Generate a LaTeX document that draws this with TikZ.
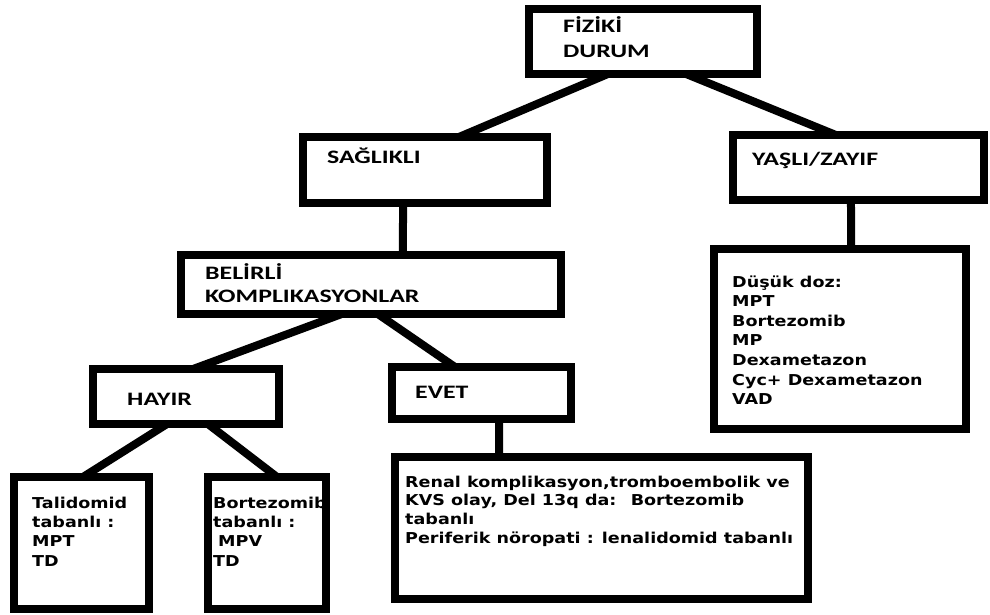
\documentclass[tikz,border=0pt]{standalone}
\usepackage{fontspec}
\newfontfamily\headfont[FakeStretch=1.36]{Carlito}
\newfontfamily\bodyfont[FakeStretch=1.17]{DejaVu Sans}
\usetikzlibrary{calc}
\begin{document}
\begin{tikzpicture}[x=1pt,y=-1pt,
  box/.style={draw=black, line width=8pt, inner sep=0pt, outer sep=0pt, fill=white},
  conn/.style={draw=black, line width=8pt},
  head/.style={anchor=base west, inner sep=0pt, font=\headfont\bfseries\fontsize{19}{19}\selectfont},
  body/.style={anchor=base west, inner sep=0pt, font=\bodyfont\bfseries\fontsize{15}{15}\selectfont}]
\useasboundingbox[fill=white] (0,0) rectangle (990,615);

% boxes
\node[box, minimum width=228pt, minimum height=65pt] (fiz) at (643,41.5) {};
\node[box, minimum width=244pt, minimum height=66pt] (sag) at (425,170) {};
\node[box, minimum width=251pt, minimum height=65pt] (yas) at (858.5,167.5) {};
\node[box, minimum width=380pt, minimum height=59pt] (bel) at (371,284.5) {};
\node[box, minimum width=252pt, minimum height=180pt] (dus) at (840,339) {};
\node[box, minimum width=186pt, minimum height=55pt] (hay) at (186,396.5) {};
\node[box, minimum width=179pt, minimum height=52pt] (evt) at (481.5,393) {};
\node[box, minimum width=135pt, minimum height=132pt] (tal) at (81.5,543) {};
\node[box, minimum width=118pt, minimum height=132pt] (bor) at (267,543) {};
\node[box, minimum width=413pt, minimum height=142pt] (ren) at (601.5,528) {};

% connectors
\draw[conn] ($(fiz.south west)!0.346!(fiz.south east)$) -- ($(sag.north west)!0.639!(sag.north east)$);
\draw[conn] ($(fiz.south west)!0.689!(fiz.south east)$) -- ($(yas.north west)!0.41!(yas.north east)$);
\draw[conn] ($(sag.south west)!0.41!(sag.south east)$) -- ($(bel.north west)!0.584!(bel.north east)$);
\draw[conn] ($(yas.south west)!0.47!(yas.south east)$) -- ($(dus.north west)!0.544!(dus.north east)$);
\draw[conn] ($(bel.south west)!0.423!(bel.south east)$) -- ($(hay.north west)!0.538!(hay.north east)$);
\draw[conn] ($(bel.south west)!0.518!(bel.south east)$) -- ($(evt.north west)!0.352!(evt.north east)$);
\draw[conn] ($(hay.south west)!0.398!(hay.south east)$) -- ($(tal.north west)!0.511!(tal.north east)$);
\draw[conn] ($(hay.south west)!0.618!(hay.south east)$) -- ($(bor.north west)!0.585!(bor.north east)$);
\draw[conn] ($(evt.south west)!0.598!(evt.south east)$) -- ($(ren.north west)!0.252!(ren.north east)$);

% headings
\node[head] (fizA) at (563,33) {FİZİKİ};
\node[head] (fizB) at (563,58) {DURUM};
\node[head] (sagT) at (327,163) {SAĞLIKLI};
\node[head] (yasT) at (752,165) {YAŞLI/ZAYIF};
\node[head] (belA) at (205,279) {BELİRLİ};
\node[head] (belB) at (205,302) {KOMPLIKASYONLAR};
\node[head] (hayT) at (127,405) {HAYIR};
\node[head] (evtT) at (415,398) {EVET};

% body texts
\node[body] (dus1) at (732,287) {Düşük doz:};
\node[body] (dus2) at (732,306.6) {MPT};
\node[body] (dus3) at (732,326.2) {Bortezomib};
\node[body] (dus4) at (732,345.8) {MP};
\node[body] (dus5) at (732,365.4) {Dexametazon};
\node[body] (dus6) at (732,385) {Cyc+ Dexametazon};
\node[body] (dus7) at (732,404.6) {VAD};

\node[body] (tal1) at (32,508) {Talidomid};
\node[body] (tal2) at (32,527.4) {tabanlı :};
\node[body] (tal3) at (32,546.8) {MPT};
\node[body] (tal4) at (32,566.2) {TD};

\node[body] (bor1) at (213,508) {Bortezomib};
\node[body] (bor2) at (213,527.4) {tabanlı :};
\node[body] (bor3) at (218,546.8) {MPV};
\node[body] (bor4) at (213,566.2) {TD};

\node[body] (ren1) at (405,487) {Renal komplikasyon,tromboembolik ve};
\node[body] (ren2) at (405,505.9) {KVS olay, Del 13q da: \ Bortezomib};
\node[body] (ren3) at (405,524.8) {tabanlı};
\node[body] (ren4) at (405,543.7) {Periferik nöropati : lenalidomid tabanlı};
\end{tikzpicture}
\end{document}
